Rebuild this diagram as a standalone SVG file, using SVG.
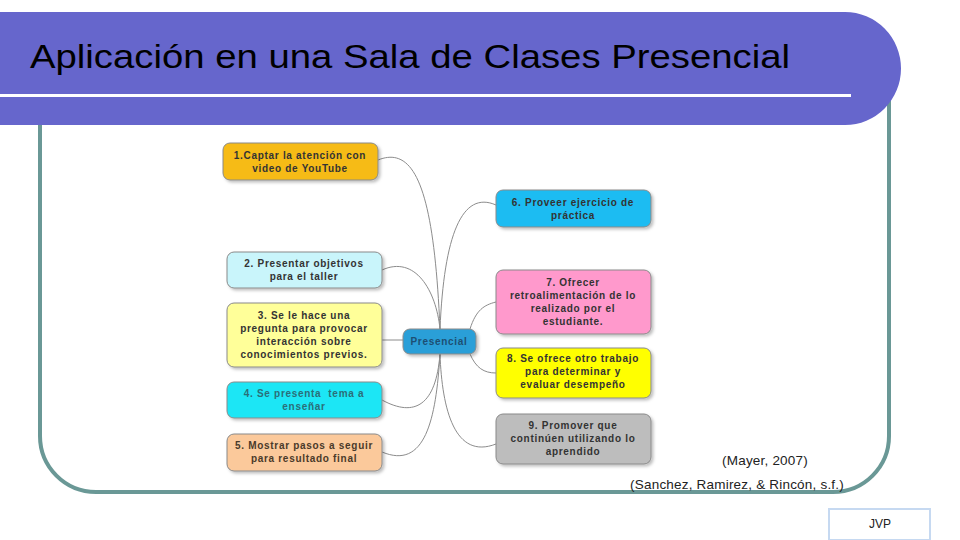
<svg xmlns="http://www.w3.org/2000/svg" width="960" height="540" viewBox="0 0 960 540">
<defs>
<filter id="sh" x="-10%" y="-10%" width="130%" height="140%">
<feDropShadow dx="2" dy="2" stdDeviation="1.5" flood-color="#000" flood-opacity="0.25"/>
</filter>
<style>
.n{stroke:#8a8a8a;stroke-width:1;filter:url(#sh)}
.t{font-family:"Liberation Sans",Arial,sans-serif;font-weight:bold;font-size:10px;fill:#333;text-anchor:middle;letter-spacing:0.7px}
.c{fill:none;stroke:#8c8c8c;stroke-width:1}
.cit{font-family:"Liberation Sans",Arial,sans-serif;font-size:13.5px;fill:#222;text-anchor:middle;letter-spacing:0.2px}
</style>
</defs>
<rect width="960" height="540" fill="#fff"/>
<!-- frame -->
<path d="M40,120 V436 A56,56 0 0 0 96,492 H833 A56,56 0 0 0 889,436 V95" fill="none" stroke="#6a9896" stroke-width="4"/>
<!-- header -->
<path d="M0,12 H845 A56,56.5 0 0 1 845,125 H0 Z" fill="#6666cc"/>
<rect x="0" y="94" width="851" height="3" fill="#fff"/>
<text x="30" y="68" font-family="Liberation Sans,Arial,sans-serif" font-size="34" fill="#000" textLength="760" lengthAdjust="spacingAndGlyphs">Aplicación en una Sala de Clases Presencial</text>

<g id="connectors">
<path class="c" d="M378,160 C415,145 434,190 440,329"/>
<path class="c" d="M382,270 C415,255 436,290 440,329"/>
<path class="c" d="M496,205 C462,190 444,235 440,329"/>
<path class="c" d="M403,340 H382"/>
<path class="c" d="M382,400 C415,418 436,405 440,354"/>
<path class="c" d="M382,452 C425,470 436,420 440,354"/>
<path class="c" d="M496,444 C455,460 442,410 440,354"/>
<path class="c" d="M470,329 C476,310 484,305 496,302"/>
<path class="c" d="M470,354 C476,368 484,373 496,373"/>
</g>

<g id="n1"><rect class="n" x="223" y="143" width="155" height="37" rx="7" fill="#f6bb12"/>
<text class="t" x="300" y="159">1.Captar la atención con</text><text class="t" x="300" y="172">video de YouTube</text></g>
<g id="n2"><rect class="n" x="227" y="252" width="155" height="36" rx="7" fill="#c9f5fb"/>
<text class="t" x="304" y="267">2. Presentar objetivos</text><text class="t" x="304" y="280">para el taller</text></g>
<g id="n3"><rect class="n" x="227" y="303" width="155" height="64" rx="7" fill="#ffff99"/>
<text class="t" x="304" y="319">3. Se le hace una</text><text class="t" x="304" y="332">pregunta para provocar</text><text class="t" x="304" y="345">interacción sobre</text><text class="t" x="304" y="358">conocimientos previos.</text></g>
<g id="n4"><rect class="n" x="227" y="382" width="155" height="36" rx="7" fill="#1de6f5"/>
<text class="t" x="304" y="397" style="fill:#2b6e78">4. Se presenta&#160; tema a</text><text class="t" x="304" y="410" style="fill:#2b6e78">enseñar</text></g>
<g id="n5"><rect class="n" x="227" y="434" width="155" height="37" rx="7" fill="#fbc99b"/>
<text class="t" x="304" y="449" style="fill:#4a3a2a">5. Mostrar pasos a seguir</text><text class="t" x="304" y="462" style="fill:#4a3a2a">para resultado final</text></g>
<g id="center"><rect class="n" x="403" y="329" width="73" height="25" rx="7" fill="#2a9fd8"/>
<text class="t" x="439" y="345" style="fill:#1d4f73">Presencial</text></g>
<g id="n6"><rect class="n" x="496" y="190" width="155" height="37" rx="7" fill="#1bbcf2"/>
<text class="t" x="573" y="206">6. Proveer ejercicio de</text><text class="t" x="573" y="219">práctica</text></g>
<g id="n7"><rect class="n" x="496" y="270" width="155" height="64" rx="7" fill="#ff99cc"/>
<text class="t" x="573" y="286">7. Ofrecer</text><text class="t" x="573" y="299">retroalimentación de lo</text><text class="t" x="573" y="312">realizado por el</text><text class="t" x="573" y="325">estudiante.</text></g>
<g id="n8"><rect class="n" x="496" y="348" width="155" height="50" rx="7" fill="#ffff00"/>
<text class="t" x="573" y="362">8. Se ofrece otro trabajo</text><text class="t" x="573" y="375">para determinar y</text><text class="t" x="573" y="388">evaluar desempeño</text></g>
<g id="n9"><rect class="n" x="496" y="414" width="155" height="50" rx="7" fill="#bdbdbd"/>
<text class="t" x="573" y="429">9. Promover que</text><text class="t" x="573" y="442">continúen utilizando lo</text><text class="t" x="573" y="455">aprendido</text></g>

<text class="cit" x="765" y="465">(Mayer, 2007)</text>
<text class="cit" x="737" y="489">(Sanchez, Ramirez, &amp; Rincón, s.f.)</text>
<g id="jvp"><rect x="829" y="509" width="101" height="31" fill="#fff" stroke="#c6d9f1" stroke-width="2"/>
<text x="880" y="528" font-family="Liberation Sans,Arial,sans-serif" font-size="12" fill="#222" text-anchor="middle">JVP</text></g>
</svg>
